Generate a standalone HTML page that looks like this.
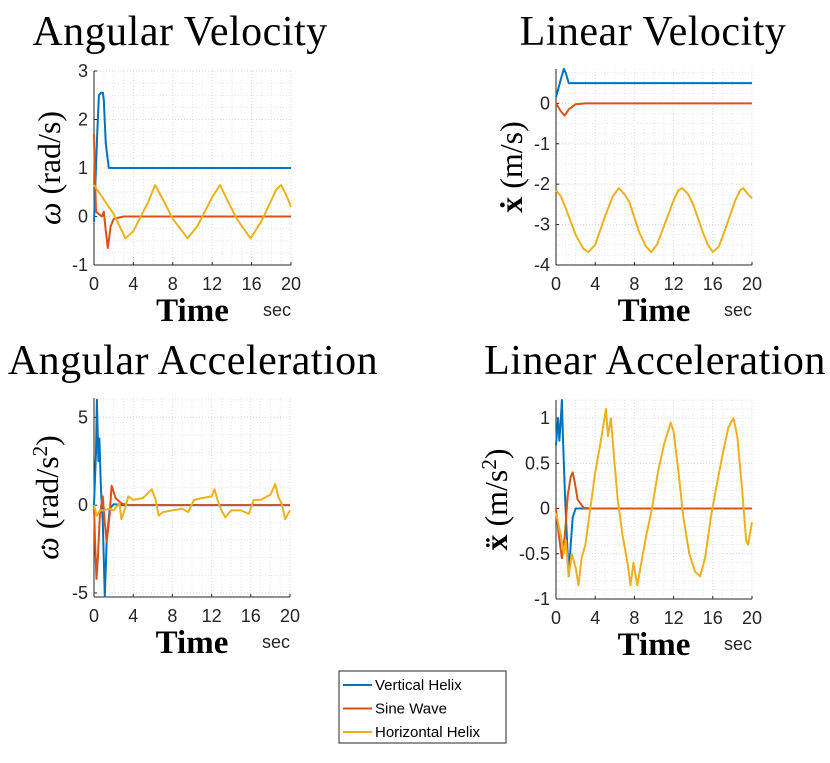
<!DOCTYPE html>
<html><head><meta charset="utf-8">
<style>
html,body{margin:0;padding:0;background:#fff;}
svg{display:block;}
.tk{font-family:"Liberation Sans",sans-serif;font-size:18px;fill:#262626;}
.ttl{font-family:"Liberation Serif",serif;font-size:42px;letter-spacing:0.5px;fill:#000;}
.yl{font-family:"Liberation Serif",serif;font-size:32px;fill:#000;}
.tm{font-family:"Liberation Serif",serif;font-size:33px;font-weight:bold;fill:#000;}
.sec{font-family:"Liberation Sans",sans-serif;font-size:18px;fill:#262626;}
.lg{font-family:"Liberation Sans",sans-serif;font-size:15px;fill:#000;}
</style></head>
<body>
<svg id="fig" width="830" height="763" viewBox="0 0 830 763" xmlns="http://www.w3.org/2000/svg"></svg>
<script>
// ---- data ----
const xTicks = [0,4,8,12,16,20];
const seriesNames = ["Vertical Helix","Sine Wave","Horizontal Helix"];
const seriesColors = ["#0072BD","#D95319","#EDB120"];

const avT_blue = [0,0.3,0.5,0.7,0.9,1.0,1.2,1.5,20];
const avV_blue = [-0.1,1.6,2.5,2.55,2.55,2.4,1.5,1.0,1.0];
const avT_red = [0,0.05,0.2,0.5,0.8,1.0,1.2,1.4,1.7,2,3,20];
const avV_red = [1.7,1.2,0.1,0.05,0.0,0.1,-0.3,-0.65,-0.2,-0.05,0,0];
const avT_yel = [0,1,2,3.2,4,5.5,6.2,7,8,9.5,10.5,12,12.8,13.5,14.5,15.9,17,18.5,19,19.5,20];
const avV_yel = [0.65,0.35,0.05,-0.45,-0.3,0.3,0.65,0.35,-0.05,-0.45,-0.2,0.4,0.65,0.35,-0.05,-0.45,-0.1,0.55,0.65,0.45,0.2];

const lvT_blue = [0,0.5,0.8,1.0,1.3,2,20];
const lvV_blue = [0.15,0.6,0.85,0.75,0.5,0.5,0.5];
const lvT_red = [0,0.5,0.9,1.3,2,3,20];
const lvV_red = [0,-0.2,-0.3,-0.15,-0.02,0,0];
const lvT_yel = [0,0.5,1,2,2.8,3.3,4,5,5.8,6.4,7,7.5,8.5,9.2,9.7,10.3,11,12,12.5,12.9,13.5,14,15,15.5,16,16.6,17.3,18.3,18.8,19.1,19.6,20];
const lvV_yel = [-2.15,-2.3,-2.6,-3.25,-3.6,-3.68,-3.5,-2.8,-2.3,-2.1,-2.25,-2.45,-3.2,-3.55,-3.68,-3.5,-3.05,-2.4,-2.15,-2.1,-2.25,-2.5,-3.2,-3.5,-3.68,-3.55,-3.1,-2.4,-2.15,-2.1,-2.25,-2.35];

const aaT_blue = [0,0.2,0.3,0.45,0.55,0.7,0.9,1.1,1.3,1.6,2,3,20];
const aaV_blue = [0,3,6,2.5,3.8,1,-1,-5.2,-2,-0.2,0.05,0,0];
const aaT_red = [0,0.1,0.25,0.4,0.6,0.9,1.1,1.3,1.6,1.8,2.2,2.8,3.5,20];
const aaV_red = [0,-2,-4.2,-3,-0.5,0.5,-1,-2.1,-0.5,1.1,0.4,0.1,0,0];
const aaT_yel = [0,0.3,0.6,1,1.5,2,2.6,2.8,3,3.5,4,5,5.9,6.3,6.6,7,8,9,9.6,10.2,11,12,12.3,12.6,13,13.4,14,15,15.8,16.3,17,18,18.5,18.8,19.2,19.5,20];
const aaV_yel = [0,-0.6,-0.3,-0.3,-0.2,-0.3,0.1,-0.8,-0.5,0.5,0.3,0.4,0.9,0.3,-0.6,-0.4,-0.3,-0.2,-0.4,0.3,0.4,0.5,0.9,0.3,-0.3,-0.7,-0.3,-0.3,-0.5,0.3,0.3,0.6,1.2,0.5,0,-0.8,-0.3];

const laT_blue = [0,0.2,0.35,0.5,0.6,0.7,0.9,1.1,1.3,1.5,1.7,2,3,20];
const laV_blue = [0.7,1,0.75,1,1.2,0.8,0.2,-0.3,-0.75,-0.4,-0.1,0,0,0];
const laT_red = [0,0.3,0.6,0.9,1.2,1.5,1.7,1.9,2.2,2.8,3.5,20];
const laV_red = [0,-0.3,-0.55,-0.3,0.15,0.35,0.4,0.3,0.1,0.01,0,0];
const laT_yel = [0,0.5,0.8,1,1.3,1.6,2,2.3,2.6,3,3.5,4,4.5,4.8,5.1,5.3,5.6,5.9,6.3,6.8,7.3,7.6,7.9,8.3,8.7,9.2,9.8,10.4,11,11.7,12,12.5,13,13.6,14.2,14.7,15.2,15.8,16.3,17,17.6,18.1,18.5,19,19.4,19.6,20];
const laV_yel = [-0.05,-0.3,-0.5,-0.35,-0.75,-0.5,-0.65,-0.85,-0.55,-0.4,0,0.4,0.7,0.9,1.1,0.8,1.0,0.6,0.1,-0.3,-0.6,-0.85,-0.6,-0.85,-0.6,-0.3,0,0.4,0.7,0.95,0.85,0.4,-0.1,-0.5,-0.7,-0.75,-0.55,-0.1,0.2,0.6,0.9,1.0,0.8,0.2,-0.35,-0.4,-0.15];

const avYTicks=[-1,0,1,2,3], lvYTicks=[-4,-3,-2,-1,0], aaYTicks=[-5,0,5], laYTicks=[-1,-0.5,0,0.5,1];
const laYLabels=["-1","-0.5","0","0.5","1"];

// ---- drawing ----
const NS="http://www.w3.org/2000/svg";
const svg=document.getElementById('fig');
function mk(tag,attrs,parent){const e=document.createElementNS(NS,tag);for(const k in attrs)e.setAttribute(k,attrs[k]);(parent||svg).appendChild(e);return e;}

function panel(cfg){
  const g=mk('g',{});
  
  
  const sx=v=>cfg.x0+(v-0)/20*(cfg.x1-cfg.x0);
  const sy=v=>cfg.y1-(v-cfg.ymin)/(cfg.ymax-cfg.ymin)*(cfg.y1-cfg.y0);
  for(let t=1;t<20;t++){ if(t%4===0) continue; mk('line',{x1:sx(t),x2:sx(t),y1:cfg.y0,y2:cfg.y1,stroke:'#e6e6e6','stroke-dasharray':'1,2','stroke-width':1},g);}
  for(let i=0;i<cfg.minorY.length;i++){const v=cfg.minorY[i]; mk('line',{x1:cfg.x0,x2:cfg.x1,y1:sy(v),y2:sy(v),stroke:'#e6e6e6','stroke-dasharray':'1,2','stroke-width':1},g);}
  xTicks.forEach(t=>{ mk('line',{x1:sx(t),x2:sx(t),y1:cfg.y0,y2:cfg.y1,stroke:'#d9d9d9','stroke-dasharray':'1,2','stroke-width':1},g);});
  cfg.yTicks.forEach(v=>{ mk('line',{x1:cfg.x0,x2:cfg.x1,y1:sy(v),y2:sy(v),stroke:'#d9d9d9','stroke-dasharray':'1,2','stroke-width':1},g);});
  const ax=mk('line',{x1:cfg.x0,x2:cfg.x0,y1:cfg.y0,y2:cfg.y1,stroke:'#262626','stroke-width':1},g);
  
  
  const bx=mk('line',{x1:cfg.x0,x2:cfg.x1,y1:cfg.y1,y2:cfg.y1,stroke:'#262626','stroke-width':1},g);
  
  
  xTicks.forEach(t=>{
    mk('line',{x1:sx(t),x2:sx(t),y1:cfg.y1,y2:cfg.y1-3,stroke:'#262626'},g);
    const tx=mk('text',{x:sx(t),y:cfg.y1+25,'text-anchor':'middle',class:'tk'},g);
    tx.textContent=t;
    
    
  });
  cfg.yTicks.forEach((v,i)=>{
    mk('line',{x1:cfg.x0,x2:cfg.x0+3,y1:sy(v),y2:sy(v),stroke:'#262626'},g);
    const tx=mk('text',{x:cfg.x0-6,y:sy(v)+6,'text-anchor':'end',class:'tk'},g);
    tx.textContent=cfg.yLabels?cfg.yLabels[i]:v;
    
    
  });
  cfg.series.forEach((s,i)=>{
    let d='';
    s[0].forEach((t,j)=>{d+=(j?'L':'M')+sx(t).toFixed(1)+' '+sy(s[1][j]).toFixed(1);});
    const p=mk('path',{d:d,fill:'none',stroke:seriesColors[i],'stroke-width':2,'stroke-linejoin':'round'},g);
    
    
  });
  const ti=mk('text',{x:cfg.tx,y:cfg.ty,'text-anchor':'middle',class:'ttl'},g);
  ti.textContent=cfg.title;
  
  
  const yl=mk('text',{x:0,y:0,'text-anchor':'middle',class:'yl',transform:`translate(${cfg.ylx},${(cfg.y0+cfg.y1)/2}) rotate(-90)`},g);
  yl.innerHTML=cfg.ylabel;
  
  
  const tm=mk('text',{x:(cfg.x0+cfg.x1)/2,y:cfg.y1+56,'text-anchor':'middle',class:'tm'},g);
  tm.textContent='Time';
  
  
  const sc=mk('text',{x:cfg.x1,y:cfg.y1+51,'text-anchor':'end',class:'sec'},g);
  sc.textContent='sec';
  
  
}
function rng(a,b,s){const r=[];for(let v=a;v<=b+1e-9;v+=s)r.push(+v.toFixed(3));return r;}

panel({name:'angular-velocity-chart',x0:94,x1:291,y0:71,y1:265,ymin:-1,ymax:3,yTicks:avYTicks,minorY:rng(-1,3,0.25),
  series:[[avT_blue,avV_blue],[avT_red,avV_red],[avT_yel,avV_yel]],title:'Angular Velocity',tx:180,ty:45,ylx:60,
  ylabel:'<tspan font-style="italic">ω</tspan>  (rad/s)'});
panel({name:'linear-velocity-chart',x0:556,x1:752,y0:69,y1:265,ymin:-4,ymax:0.85,yTicks:lvYTicks,minorY:rng(-4,0.75,0.25),
  series:[[lvT_blue,lvV_blue],[lvT_red,lvV_red],[lvT_yel,lvV_yel]],title:'Linear Velocity',tx:653,ty:45,ylx:522,
  ylabel:'<tspan font-weight="bold">ẋ</tspan>  (m/s)'});
panel({name:'angular-acceleration-chart',x0:94,x1:290,y0:398,y1:597,ymin:-5.23,ymax:6.1,yTicks:aaYTicks,minorY:rng(-5,6,1),
  series:[[aaT_blue,aaV_blue],[aaT_red,aaV_red],[aaT_yel,aaV_yel]],title:'Angular Acceleration',tx:193,ty:374,ylx:58,
  ylabel:'<tspan font-style="italic">ω</tspan><tspan dx="-14" dy="-13">.</tspan><tspan dx="6" dy="13">  (rad/s</tspan><tspan dy="-11" font-size="21">2</tspan><tspan dy="11">)</tspan>'});
panel({name:'linear-acceleration-chart',x0:556,x1:752,y0:400,y1:599,ymin:-1,ymax:1.2,yTicks:laYTicks,yLabels:laYLabels,minorY:rng(-1,1.2,0.1),
  series:[[laT_blue,laV_blue],[laT_red,laV_red],[laT_yel,laV_yel]],title:'Linear Acceleration',tx:655,ty:374,ylx:507,
  ylabel:'<tspan font-weight="bold">ẍ</tspan>  (m/s<tspan dy="-11" font-size="21">2</tspan><tspan dy="11">)</tspan>'});

const lg=mk('g',{});


mk('rect',{x:339,y:671,width:167,height:72,fill:'#fff',stroke:'#262626','stroke-width':1},lg);
seriesNames.forEach((n,i)=>{
  const y=685+i*23.5;
  const e=mk('g',{},lg);
  
  
  mk('line',{x1:343,x2:372,y1:y,y2:y,stroke:seriesColors[i],'stroke-width':2},e);
  const t=mk('text',{x:375,y:y+5,class:'lg'},e);
  t.textContent=n;
});
</script>
</body></html>
